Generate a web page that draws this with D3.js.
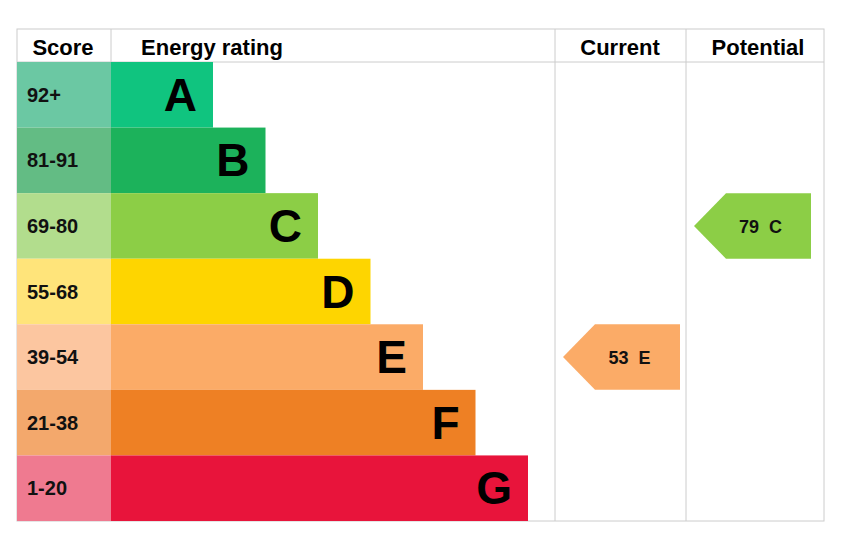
<!DOCTYPE html><html><head><meta charset="utf-8">
<script src="https://cdn.jsdelivr.net/npm/d3@7"></script>
<style>body{margin:0;background:#fff}</style></head><body><svg id="c" width="846" height="558"></svg>
<script>
const bands=["A","B","C","D","E","F","G"];
const scores=["92+","81-91","69-80","55-68","39-54","21-38","1-20"];
const bandMax=[100,91,80,68,54,38,20];
const barColors=["#10c47f","#1cb25b","#8cce46","#fed500","#fbab67","#ee8024","#e8143b"];
const scoreColors=["#6bc8a3","#63bc84","#b2dd8d","#ffe47a","#fcc6a0","#f3a86c","#ef7a90"];
const currentValue=53, currentBand="E";
const potentialValue=79, potentialBand="C";

const svg=d3.select("#c");
const L=17,R=824,T=29,H=33,B=521;
const y=d3.scaleBand().domain(bands).range([T+H,B]);
const w=d3.scaleLinear().domain([0,6]).range([213,528]);
const font="Liberation Sans, Arial, sans-serif";
svg.append("rect").attr("x",L).attr("y",T).attr("width",R-L).attr("height",B-T).attr("fill","none").attr("stroke","#ccc");
[111,555,686].forEach(x=>svg.append("line").attr("x1",x).attr("x2",x).attr("y1",T).attr("y2",B).attr("stroke","#ccc"));
svg.append("line").attr("x1",L).attr("x2",R).attr("y1",T+H).attr("y2",T+H).attr("stroke","#ccc");
const hdr=[["Score",63],["Energy rating",212],["Current",620],["Potential",758]];
hdr.forEach(([t,x])=>svg.append("text").text(t).attr("x",x).attr("y",T+26).attr("text-anchor","middle").attr("font-family",font).attr("font-weight","bold").attr("font-size",22));
bands.forEach((b,i)=>{
 svg.append("rect").attr("x",L).attr("y",y(b)).attr("width",111-L).attr("height",y.bandwidth()).attr("fill",scoreColors[i]);
 svg.append("text").text(scores[i]).attr("x",27).attr("y",y(b)+y.bandwidth()/2+7).attr("font-family",font).attr("font-weight","bold").attr("font-size",20).attr("fill","#111");
 svg.append("rect").attr("x",111).attr("y",y(b)).attr("width",w(i)-111).attr("height",y.bandwidth()).attr("fill",barColors[i]);
 svg.append("text").text(b).attr("x",w(i)-16).attr("y",y(b)+y.bandwidth()/2+16).attr("text-anchor","end").attr("font-family",font).attr("font-weight","bold").attr("font-size",46).attr("fill","#000");
});
function arrow(val,band,x0,x1){
 const i=bands.indexOf(band),yt=y(band),h=y.bandwidth();
 svg.append("path").attr("d",`M${x0},${yt+h/2}L${x0+32},${yt}L${x1},${yt}L${x1},${yt+h}L${x0+32},${yt+h}Z`).attr("fill",barColors[i]);
 svg.append("text").text(val+"  "+band).attr("x",(x0+x1)/2+8).attr("y",yt+h/2+7).attr("text-anchor","middle").attr("font-family",font).attr("font-weight","bold").attr("font-size",18).attr("fill","#111").attr("xml:space","preserve").style("white-space","pre");
}
arrow(currentValue,currentBand,563,680);
arrow(potentialValue,potentialBand,694,811);
</script></body></html>
